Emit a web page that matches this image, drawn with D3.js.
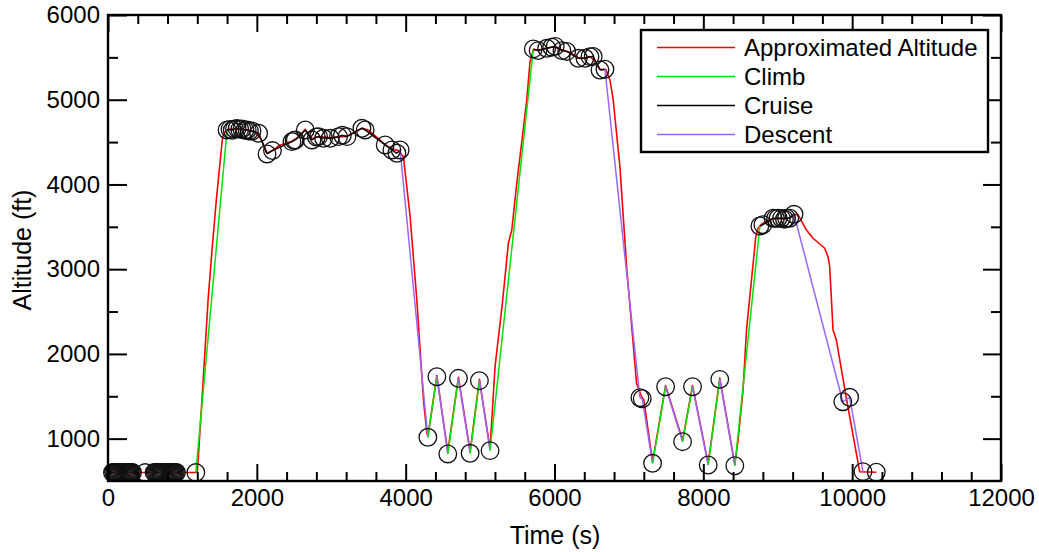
<!DOCTYPE html>
<html>
<head>
<meta charset="utf-8">
<script src="https://cdn.jsdelivr.net/npm/d3@7"></script>
<style>
  html, body { margin: 0; padding: 0; background: #fff; }
  svg { display: block; font-family: "Liberation Sans", Arial, sans-serif; }
</style>
</head>
<body>
<svg id="chart" width="1039" height="552"></svg>
<script>
// ---------------- DATA ----------------
// Observed altitude samples (circles)
const obsTime = [
  60, 75, 90, 105, 120, 135, 150, 165, 180, 195, 210, 225, 240, 255, 270, 285, 300, 315, 330, 500,
  620, 635, 650, 665, 680, 695, 710, 725, 740, 755, 770, 785, 800, 815, 830, 845, 860, 875, 890, 905, 920, 1180,
  1600, 1640, 1670, 1700, 1735, 1770, 1800, 1840, 1870, 1900, 1936, 2024, 2137, 2210, 2472, 2500, 2517, 2651, 2741,
  2800, 2830, 2897, 2987, 3098, 3150, 3211, 3412, 3456, 3725, 3815, 3882, 3926,
  4298, 4419, 4566, 4709, 4866, 4991, 5134,
  5715, 5780, 5895, 5962, 6010, 6100, 6164, 6320, 6409, 6477, 6520, 6611, 6678,
  7148, 7179, 7318, 7493, 7721, 7855, 8065, 8221, 8423,
  8760, 8800, 8937, 8970, 9004, 9050, 9090, 9117, 9161, 9219,
  9874, 9966, 10145, 10324
];
const obsAlt = [
  600, 600, 600, 600, 600, 600, 600, 600, 600, 600, 600, 600, 600, 600, 600, 600, 600, 600, 600, 600,
  600, 600, 600, 600, 600, 600, 600, 600, 600, 600, 600, 600, 600, 600, 600, 600, 600, 600, 600, 600, 600, 600,
  4643, 4650, 4640, 4655, 4660, 4650, 4655, 4640, 4643, 4630, 4631, 4604, 4360, 4400, 4505, 4520, 4525, 4643, 4525,
  4560, 4564, 4545, 4545, 4564, 4580, 4564, 4663, 4643, 4466, 4407, 4368, 4407,
  1016, 1731, 819, 1712, 827, 1684, 858,
  5600, 5580, 5607, 5620, 5630, 5580, 5570, 5489, 5489, 5508, 5510, 5351, 5360,
  1483, 1471, 709, 1613, 964, 1613, 689, 1700, 680,
  3510, 3525, 3601, 3600, 3601, 3600, 3590, 3601, 3601, 3648,
  1436, 1488, 610, 603
];
// Flight phase of the segment that starts at each observation (N = none)
const obsPhase = [
  "N","N","N","N","N","N","N","N","N","N","N","N","N","N","N","N","N","N","N","N",
  "N","N","N","N","N","N","N","N","N","N","N","N","N","N","N","N","N","N","N","N","N","C",
  "R","R","R","R","R","R","R","R","R","R","R","R","R","R","R","R","R","R","R",
  "R","R","R","R","R","R","R","R","R","R","R","R","D",
  "C","D","C","D","C","D","C",
  "R","R","R","R","R","R","R","R","R","R","R","R","D",
  "D","D","C","D","C","D","C","D","C",
  "R","R","R","R","R","R","R","R","R","D",
  "D","D","N","N"
];
// Approximated altitude curve
const approxTime = [
  60, 1180, 1200, 1215, 1280, 1345, 1400, 1456, 1500, 1540, 1580, 1620,
  1700, 1800, 1900, 1980, 2060, 2137, 2210, 2300, 2472, 2560, 2651, 2741, 2830, 2987, 3211, 3412, 3500, 3725, 3815, 3900,
  3970, 4060, 4150, 4239, 4285, 4300,
  4419, 4566, 4709, 4866, 4991, 5134,
  5201, 5300, 5380, 5426, 5493, 5560, 5627, 5671, 5715,
  5800, 5895, 5990, 6100, 6200, 6320, 6409, 6477, 6560, 6611, 6690,
  6745, 6789, 6879, 6969, 7103, 7170,
  7200, 7318, 7493, 7721, 7855, 8065, 8221, 8423,
  8467, 8534, 8580, 8647, 8705, 8736, 8781,
  8900, 9050, 9161, 9219,
  9273, 9385, 9474, 9631, 9675, 9698, 9743, 9788, 9922, 10101, 10325
];
const approxAlt = [
  600, 600, 610, 800, 1700, 2640, 3250, 3820, 4210, 4560, 4630, 4650,
  4655, 4655, 4640, 4620, 4530, 4370, 4400, 4460, 4510, 4560, 4650, 4540, 4565, 4550, 4570, 4665, 4640, 4470, 4420, 4400,
  4328, 3620, 2636, 1456, 1063, 1030,
  1745, 845, 1725, 850, 1700, 880,
  1849, 2600, 3306, 3462, 4014, 4500, 4997, 5449, 5585,
  5590, 5610, 5625, 5590, 5560, 5495, 5490, 5510, 5440, 5360, 5355,
  5233, 4997, 4210, 3029, 1653, 1495,
  1460, 725, 1625, 980, 1625, 705, 1715, 695,
  984, 1574, 2282, 2872, 3384, 3483, 3530,
  3590, 3600, 3605, 3650,
  3640, 3463, 3365, 3247, 3148, 3030, 2282, 2164, 1476, 610, 603
];
const xMajorTicks = [0, 2000, 4000, 6000, 8000, 10000, 12000];
const yMajorTicks = [1000, 2000, 3000, 4000, 5000, 6000];
const xDomain = [0, 12000];
const yDomain = [500, 6000];
const legendLabels = ["Approximated Altitude", "Climb", "Cruise", "Descent"];
const phaseKeys = ["C", "R", "D"];
const seriesColors = ["#ff0000", "#00e600", "#000000", "#9966ff"];
const xTitle = "Time (s)";
const yTitle = "Altitude (ft)";

// ---------------- LAYOUT ----------------
const M = { left: 108, right: 1001, top: 15, bottom: 481 };
const svg = d3.select("#chart");
const x = d3.scaleLinear().domain(xDomain).range([M.left, M.right]);
const y = d3.scaleLinear().domain(yDomain).range([M.bottom, M.top]);

const xMinor = d3.range(400, 12000, 400).filter(v => v % 2000 !== 0);
const yMinor = d3.range(1500, 6000, 1000);

const fontSize = 24;

// Data lines
const line = d3.line().x(d => x(d[0])).y(d => y(d[1]));
const approx = approxTime.map((t, i) => [t, approxAlt[i]]);
const obs = obsTime.map((t, i) => [t, obsAlt[i]]);

const plot = svg.append("g");
plot.append("path").datum(approx)
  .attr("d", line).attr("fill", "none")
  .attr("stroke", seriesColors[0]).attr("stroke-width", 1.6).attr("stroke-linejoin", "round");

const segs = [];
for (let i = 0; i < obs.length - 1; i++) {
  if (obsPhase[i] !== "N") segs.push({ p: obsPhase[i], a: obs[i], b: obs[i + 1] });
}
plot.selectAll("line.seg").data(segs).join("line")
  .attr("class", "seg")
  .attr("x1", d => x(d.a[0])).attr("y1", d => y(d.a[1]))
  .attr("x2", d => x(d.b[0])).attr("y2", d => y(d.b[1]))
  .attr("stroke", d => seriesColors[1 + phaseKeys.indexOf(d.p)])
  .attr("stroke-width", 1.5);

plot.selectAll("circle.obs").data(obs).join("circle")
  .attr("class", "obs")
  .attr("cx", d => x(d[0])).attr("cy", d => y(d[1]))
  .attr("r", 8.8).attr("fill", "none")
  .attr("stroke", "#111").attr("stroke-width", 1.3);

// Axes (ticks inward on all four sides)
function styleAxis(g) {
  g.select(".domain").remove();
  g.selectAll(".tick line").attr("stroke", "#000").attr("stroke-width", 2);
  g.selectAll(".tick text").attr("font-size", fontSize).attr("fill", "#000")
    .attr("font-family", "'Liberation Sans', Arial, sans-serif");
}
svg.append("g").attr("transform", `translate(0,${M.bottom})`)
  .call(d3.axisBottom(x).tickValues(xMajorTicks).tickSize(-17).tickPadding(8).tickFormat(d3.format("d")))
  .call(styleAxis);
svg.append("g").attr("transform", `translate(0,${M.bottom})`)
  .call(d3.axisBottom(x).tickValues(xMinor).tickSize(-9).tickFormat(""))
  .call(styleAxis);
svg.append("g").attr("transform", `translate(0,${M.top})`)
  .call(d3.axisTop(x).tickValues(xMajorTicks).tickSize(-17).tickFormat(""))
  .call(styleAxis);
svg.append("g").attr("transform", `translate(0,${M.top})`)
  .call(d3.axisTop(x).tickValues(xMinor).tickSize(-9).tickFormat(""))
  .call(styleAxis);
svg.append("g").attr("transform", `translate(${M.left},0)`)
  .call(d3.axisLeft(y).tickValues(yMajorTicks).tickSize(-19).tickPadding(8).tickFormat(d3.format("d")))
  .call(styleAxis);
svg.append("g").attr("transform", `translate(${M.left},0)`)
  .call(d3.axisLeft(y).tickValues(yMinor).tickSize(-10).tickFormat(""))
  .call(styleAxis);
svg.append("g").attr("transform", `translate(${M.right},0)`)
  .call(d3.axisRight(y).tickValues(yMajorTicks).tickSize(-18).tickFormat(""))
  .call(styleAxis);
svg.append("g").attr("transform", `translate(${M.right},0)`)
  .call(d3.axisRight(y).tickValues(yMinor).tickSize(-10).tickFormat(""))
  .call(styleAxis);

// Frame
svg.append("rect")
  .attr("x", M.left).attr("y", M.top)
  .attr("width", M.right - M.left).attr("height", M.bottom - M.top)
  .attr("fill", "none").attr("stroke", "#000").attr("stroke-width", 2.4);

// Axis titles
svg.append("text").attr("x", 555).attr("y", 544)
  .attr("text-anchor", "middle").attr("font-size", 25).text(xTitle);
svg.append("text")
  .attr("transform", `translate(31,${(M.top + M.bottom) / 2 + 2}) rotate(-90)`)
  .attr("text-anchor", "middle").attr("font-size", 25).text(yTitle);

// Legend
const lg = svg.append("g").attr("transform", "translate(641,30)");
lg.append("rect").attr("width", 347).attr("height", 122)
  .attr("fill", "#fff").attr("stroke", "#000").attr("stroke-width", 2.4);
legendLabels.forEach((lab, i) => {
  const cy = 17.5 + i * 29;
  lg.append("line").attr("x1", 16).attr("x2", 94).attr("y1", cy).attr("y2", cy)
    .attr("stroke", seriesColors[i]).attr("stroke-width", 1.6);
  lg.append("text").attr("x", 103).attr("y", cy + 8.5).attr("font-size", 24).text(lab);
});
</script>
</body>
</html>
